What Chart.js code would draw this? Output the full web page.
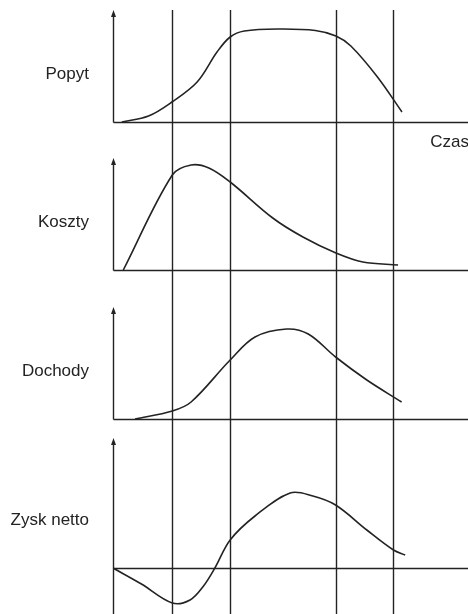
<!DOCTYPE html>
<html>
<head>
<meta charset="utf-8">
<script src="https://cdn.jsdelivr.net/npm/chart.js@4/dist/chart.umd.min.js"></script>
<style>
  html, body { margin: 0; padding: 0; background: #fff; }
  #chart { display: block; }
</style>
</head>
<body>
<canvas id="chart" width="468" height="614"></canvas>
<script>
// Time axis (Czas) runs 0..100, phase boundaries are the vertical lines
const timeMax = 100;
const phaseBounds = [16.6, 33, 62.8, 78.9];

const panelNames = ['Popyt', 'Koszty', 'Dochody', 'Zysk netto'];

// Popyt (demand)
const popytX = [2.5, 10, 16.6, 23.7, 29.3, 33, 37, 47, 57, 62.8, 67, 74.5, 81.4];
const popytY = [0, 6, 20, 40, 70, 85, 91, 93, 91.5, 86, 76, 45, 10];

// Koszty (costs)
const kosztyX = [2.9, 16.7, 22, 27, 33, 45, 53.5, 62.8, 70.4, 80.3];
const kosztyY = [0, 95, 105, 102, 88, 52, 33, 17, 8, 5];

// Dochody (revenue)
const dochodyX = [6.2, 16.7, 22, 33, 40, 48.9, 55, 62.7, 71.5, 81.3];
const dochodyY = [0, 8, 17, 59, 82, 90, 85, 62, 39, 17];

// Zysk netto (net profit)
const zyskX = [0, 8, 16.7, 21.7, 25.5, 28.7, 33, 40, 49.9, 56.3, 62.7, 71.5, 79, 82.3];
const zyskY = [0, -16, -35, -32, -18, 0, 28, 52, 75, 72, 63, 38, 18, 13];

const series = [
  { x: popytX, y: popytY },
  { x: kosztyX, y: kosztyY },
  { x: dochodyX, y: dochodyY },
  { x: zyskX, y: zyskY }
];

// panel layout: value range of each stacked y axis and its share of the height
const panelMin = [-18, -20, -11, -46];
const panelMax = [122, 130, 129, 138];
const panelWeight = [140, 150, 140, 184];
const arrowTop = [112, 112, 112, 130];
const labelAt = 48;

const ink = '#232323';

const scales = {
  x: { type: 'linear', display: false, min: 0, max: timeMax }
};
panelNames.forEach((name, i) => {
  scales['p' + i] = {
    type: 'linear',
    display: false,
    position: 'left',
    stack: 'panels',
    stackWeight: panelWeight[i],
    weight: panelNames.length - i,
    min: panelMin[i],
    max: panelMax[i]
  };
});

// axes with arrows, baselines, phase lines and labels
const diagramPlugin = {
  id: 'diagram',
  beforeDatasetsDraw(chart) {
    const { ctx, chartArea } = chart;
    const xs = chart.scales.x;
    const x0 = xs.getPixelForValue(0);
    ctx.save();
    ctx.strokeStyle = ink;
    ctx.fillStyle = ink;
    ctx.lineWidth = 1.4;

    const topY = chart.scales.p0.getPixelForValue(arrowTop[0]);
    phaseBounds.forEach(b => {
      const x = Math.round(xs.getPixelForValue(b)) + 0.5;
      ctx.beginPath();
      ctx.moveTo(x, topY);
      ctx.lineTo(x, chartArea.bottom);
      ctx.stroke();
    });

    panelNames.forEach((name, i) => {
      const ys = chart.scales['p' + i];
      const base = Math.round(ys.getPixelForValue(0)) + 0.5;
      const tip = ys.getPixelForValue(arrowTop[i]);
      const ax = Math.round(x0) + 0.5;
      const last = i === panelNames.length - 1;

      ctx.beginPath();
      ctx.moveTo(ax, tip + 4);
      ctx.lineTo(ax, last ? chartArea.bottom : base);
      ctx.moveTo(ax, base);
      ctx.lineTo(chartArea.right, base);
      ctx.stroke();

      ctx.beginPath();
      ctx.moveTo(ax, tip);
      ctx.lineTo(ax - 2.5, tip + 7);
      ctx.lineTo(ax + 2.5, tip + 7);
      ctx.closePath();
      ctx.fill();

      ctx.font = '17px "Liberation Sans", Arial, sans-serif';
      ctx.textAlign = 'right';
      ctx.textBaseline = 'middle';
      ctx.fillText(name, x0 - 24, ys.getPixelForValue(labelAt));

      if (i === 0) {
        ctx.fillText('Czas', chartArea.right + 1, base + 20);
      }
    });
    ctx.restore();
  }
};

new Chart(document.getElementById('chart'), {
  type: 'line',
  data: {
    datasets: series.map((s, i) => ({
      label: panelNames[i],
      data: s.x.map((x, j) => ({ x, y: s.y[j] })),
      yAxisID: 'p' + i,
      borderColor: ink,
      borderWidth: 1.6,
      pointRadius: 0,
      fill: false,
      tension: 0.35
    }))
  },
  options: {
    responsive: false,
    animation: false,
    layout: { padding: { left: 113, right: 0, top: 0, bottom: 0 } },
    plugins: {
      legend: { display: false },
      tooltip: { enabled: false }
    },
    scales
  },
  plugins: [diagramPlugin]
});
</script>
</body>
</html>
